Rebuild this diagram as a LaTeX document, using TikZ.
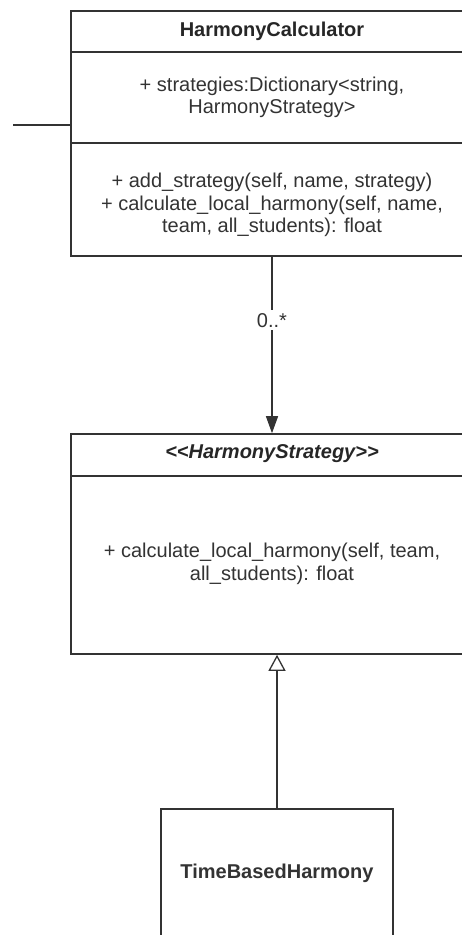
\documentclass[tikz,border=0pt]{standalone}
\usepackage{fontspec}
\setmainfont{Liberation Sans}
\usetikzlibrary{arrows.meta,calc}
\definecolor{ink}{HTML}{333333}
\begin{document}
\begin{tikzpicture}[x=1pt,y=-1pt,
  box/.style={draw=ink,line width=1.6pt,rectangle,inner sep=0pt,fill=white},
  divider/.style={draw=ink,line width=1.6pt},
  txt/.style={text=ink,align=center,font=\fontsize{20}{22.5}\selectfont,inner sep=0pt},
  ttl/.style={text=black!85,align=center,font=\fontsize{20}{22.5}\selectfont\bfseries,inner sep=0pt},
  conn/.style={draw=ink,line width=1.3pt}]
\useasboundingbox (0,0) rectangle (462,935);
\clip (0,0) rectangle (462,935);
\fill[white] (0,0) rectangle (462,935);
% HarmonyCalculator
\node[box,minimum width=402pt,minimum height=245pt] (hc) at (272,133.5) {};
\draw[divider] (hc.west |- 0,52) -- (hc.east |- 0,52);
\draw[divider] (hc.west |- 0,143) -- (hc.east |- 0,143);
\node[ttl] (hct) at (272,31) {HarmonyCalculator};
\node[txt] (hca) at (272,97.5) {+ strategies:Dictionary<string,\\HarmonyStrategy>};
\node[txt] (hcm) at (272,205) {+ add\_strategy(self, name, strategy)\\+ calculate\_local\_harmony(self, name,\\team, all\_students): float};
\coordinate (stub) at (13,125);
\draw[conn] (stub) -- (stub -| hc.west);
% HarmonyStrategy
\node[box,minimum width=402pt,minimum height=220pt] (hs) at (272,544) {};
\draw[divider] (hs.west |- 0,476) -- (hs.east |- 0,476);
\node[ttl,font=\fontsize{20}{22.5}\selectfont\bfseries\itshape] (hst) at (272,454) {<{}<HarmonyStrategy>{}>};
\node[txt] (hsm) at (272,564) {+ calculate\_local\_harmony(self, team,\\all\_students): float};
% TimeBasedHarmony
\node[box,minimum width=232pt,minimum height=160pt,anchor=north] (tb) at (277,808) {};
\node[ttl,text=ink] (tbt) at (277,873) {TimeBasedHarmony};
% connectors
\draw[conn,-{Triangle[width=12pt,length=17pt]}] (hc.south) -- node[pos=0.36,fill=white,txt,inner sep=3pt] (mult) {0..*} (hs.north);
\draw[conn,-{Triangle[open,width=17pt,length=16pt,fill=white]}] (tb.north) -- (tb.north |- hs.south);
\end{tikzpicture}
\end{document}
